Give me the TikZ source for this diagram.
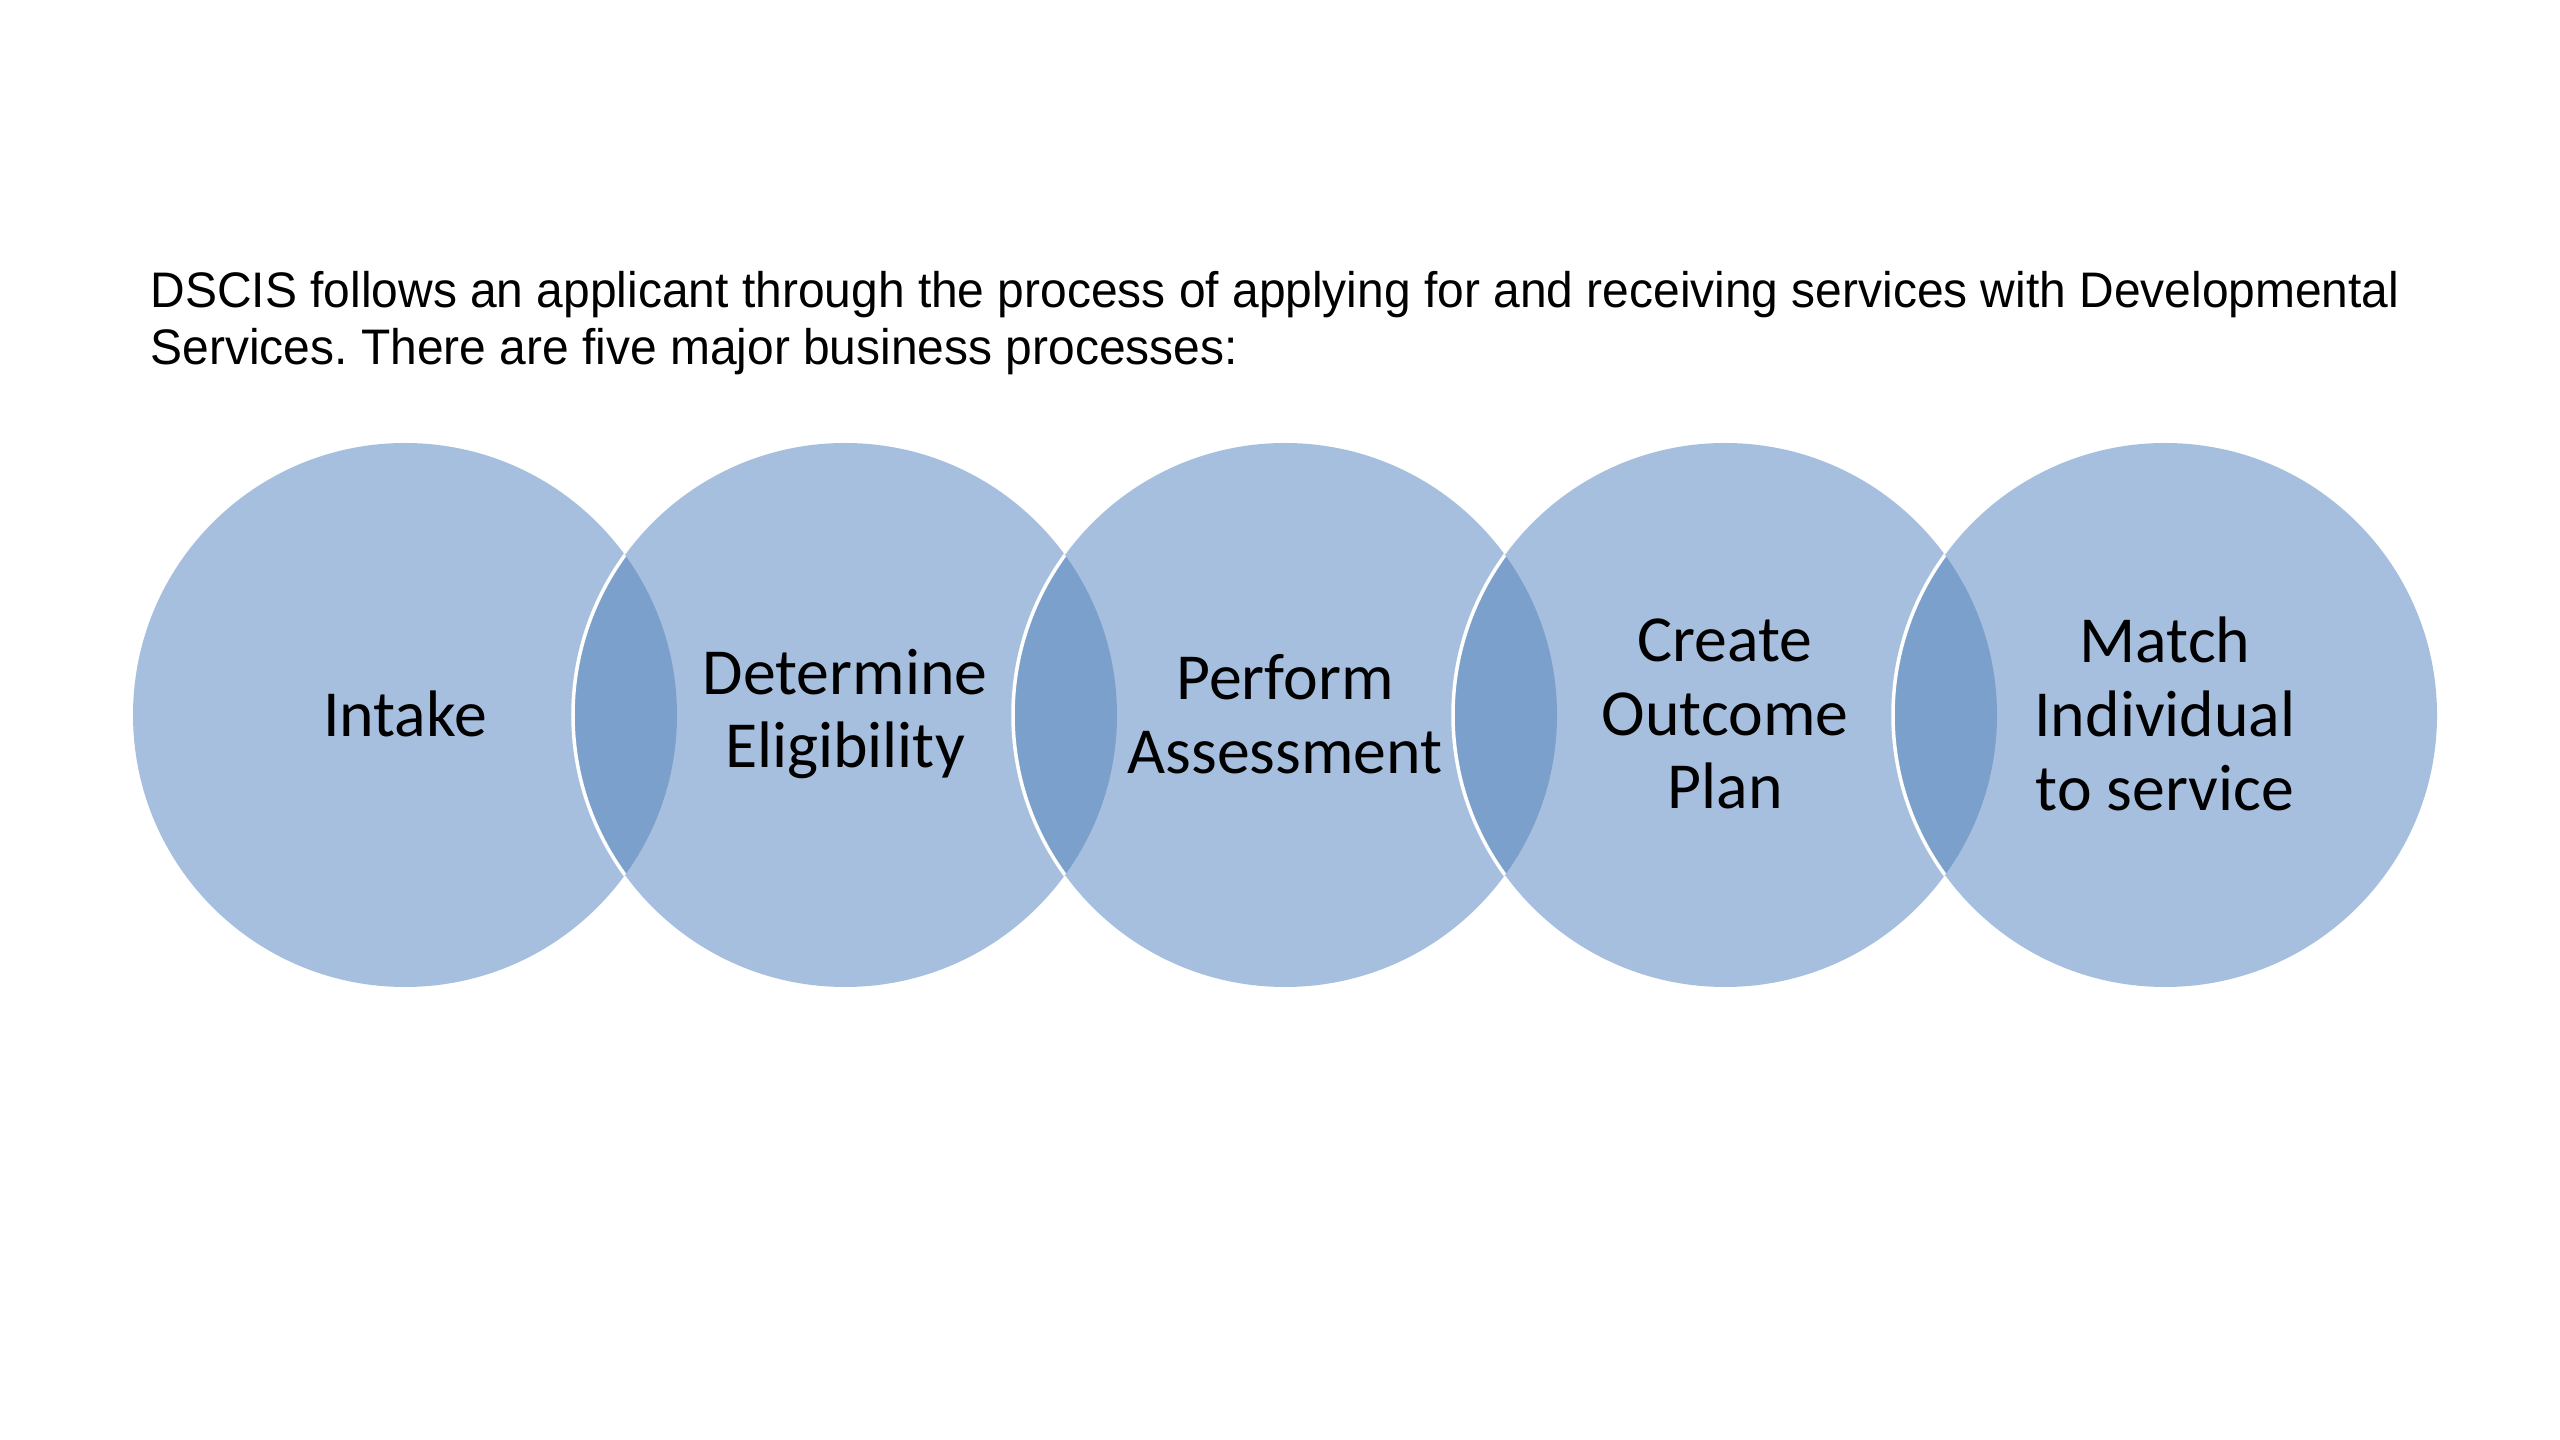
\documentclass[tikz,border=0pt]{standalone}
\usepackage{fontspec}
\setmainfont{Liberation Sans}
\newfontfamily\calib{Carlito}
\frenchspacing
\definecolor{circlight}{HTML}{A7BFDE}
\definecolor{circdark}{HTML}{7BA0CB}
\begin{document}
\begin{tikzpicture}[x=0.01cm,y=-0.01cm,
  lbl/.style={font=\calib\fontsize{18.7}{21}\selectfont, align=center, text=black},
  intro/.style={font=\fontsize{14.2}{16.2}\selectfont, anchor=north west, inner sep=0pt, align=left}]
\useasboundingbox (0,0) rectangle (2560,1440);
\fill[white] (0,0) rectangle (2560,1440);
\def\R{272}
% circles
\foreach \i/\cx in {1/405,2/845,3/1285,4/1725,5/2165}{
  \coordinate (c\i) at (\cx,715);
  \fill[circlight] (c\i) circle (\R);
}
% lens overlaps and white edges
\foreach \a/\b in {1/2,2/3,3/4,4/5}{
  \begin{scope}
    \clip (c\a) circle (\R);
    \fill[circdark] (c\b) circle (\R);
    \draw[white, line width=1pt] (c\b) circle (\R);
  \end{scope}
}
\node[intro] (title) at (150,271) {\scalebox{0.96}[1]{DSCIS follows an applicant through the process of applying for and receiving services with Developmental}\\[0pt]\scalebox{0.96}[1]{Services. There are five major business processes:}};
\node[lbl] (n1) at (405,714) {Intake};
\node[lbl] (n2) at (845,714) {Determine\\Eligibility};
\node[lbl] (n3) at (1285,714) {Perform\\Assessment};
\node[lbl] (n4) at (1725,714) {Create\\Outcome\\Plan};
\node[lbl] (n5) at (2165,714) {Match\\Individual\\to service};
\end{tikzpicture}
\end{document}
